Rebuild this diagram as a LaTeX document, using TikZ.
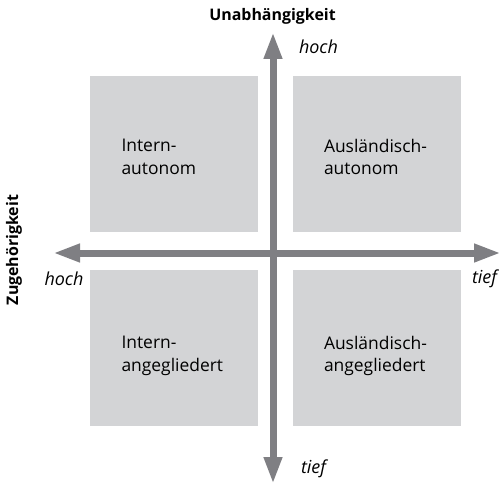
\documentclass[tikz,border=0pt]{standalone}
\usepackage{fontspec}
\setmainfont{Open Sans}
\usepackage{xcolor}
\usetikzlibrary{arrows.meta,positioning}

\definecolor{quadgray}{HTML}{D3D4D6}
\definecolor{axisgray}{HTML}{7F7F83}

\begin{document}
\begin{tikzpicture}[x=1bp, y=-1bp,
        every node/.style={font=\fontsize{17.5}{22.5}\selectfont},
        quad/.style={fill=quadgray, minimum width=168bp, minimum height=156bp, inner sep=0pt},
        quadtext/.style={align=left, inner sep=0pt},
        axis/.style={draw=axisgray, line width=7bp,
            {Triangle[length=27bp, width=17bp]}-{Triangle[length=27bp, width=17bp]}},
        axislabel/.style={font=\fontsize{16}{19}\selectfont\bfseries},
        endlabel/.style={font=\fontsize{18}{21}\selectfont\itshape},
    ]
        \useasboundingbox (0,0) rectangle (499,485);

        % Quadrants
        \node[quad] (tl) at (174,154) {};
        \node[quad] (tr) at (376.5,154) {};
        \node[quad] (bl) at (174,348) {};
        \node[quad] (br) at (376.5,348) {};

        \node[quadtext, right=31.5bp of tl.west, yshift=-3bp] (tltext) {Intern-\\autonom};
        \node[quadtext, right=31.5bp of tr.west, yshift=-3bp] (trtext) {Ausländisch-\\autonom};
        \node[quadtext, right=31.5bp of bl.west, yshift=-8bp] (bltext) {Intern-\\angegliedert};
        \node[quadtext, right=31.5bp of br.west, yshift=-8bp] (brtext) {Ausländisch-\\angegliedert};

        % Axes
        \coordinate (top) at (273,32);
        \coordinate (bottom) at (273,484);
        \coordinate (left) at (53,253);
        \coordinate (right) at (501,253);
        \draw[axis] (bottom) -- (top);
        \draw[axis] (left) -- (right);

        % Labels
        \node[axislabel] (unab) at (272.5,16) {Unabhängigkeit};
        \node[axislabel, rotate=90] (zuge) at (14,250) {Zugehörigkeit};
        \node[endlabel] (vhoch) at (318.5,47) {hoch};
        \node[endlabel] (vtief) at (313.5,469) {tief};
        \node[endlabel] (hhoch) at (64,279) {hoch};
        \node[endlabel] (htief) at (484.5,279) {tief};
    \end{tikzpicture}
\end{document}
